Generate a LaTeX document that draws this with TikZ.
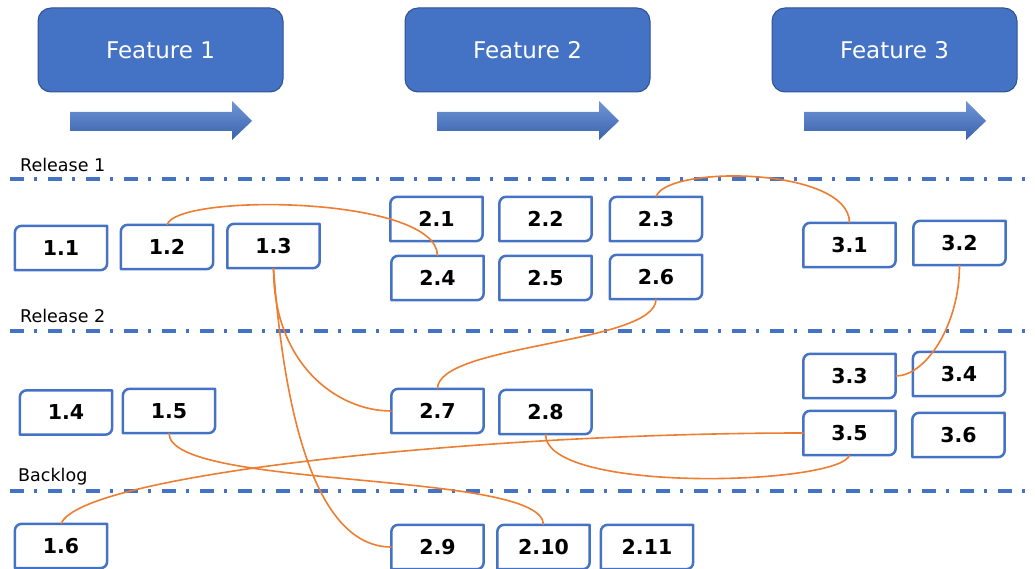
\documentclass[tikz,border=0pt]{standalone}
\usepackage{fontspec}
\setmainfont{DejaVu Sans}
\definecolor{featblue}{HTML}{4472C4}
\definecolor{featedge}{HTML}{2F528F}
\definecolor{linkorange}{HTML}{ED7D31}
\definecolor{arrowtop}{HTML}{7096D8}
\definecolor{arrowbot}{HTML}{3A62AB}

% outline of a work item: rounded top-left and bottom-right corners
\newcommand\cellframe[1]{%
  \draw[cellline] (#1.south west) -- ([yshift=-7pt]#1.north west)
    .. controls ([yshift=-3pt]#1.north west) and ([xshift=3pt]#1.north west) .. ([xshift=7pt]#1.north west)
    -- (#1.north east) -- ([yshift=7pt]#1.south east)
    .. controls ([yshift=3pt]#1.south east) and ([xshift=-3pt]#1.south east) .. ([xshift=-7pt]#1.south east)
    -- cycle;}

\tikzset{
  feature/.style={draw=featedge, line width=1pt, fill=featblue, rounded corners=13pt,
    minimum width=245pt, minimum height=84pt, inner sep=0pt, text=white,
    font=\fontsize{23}{26}\selectfont},
  cell/.style={minimum width=92pt, minimum height=44pt, inner sep=0pt,
    font=\fontsize{20.5}{22}\selectfont\bfseries},
  cellline/.style={draw=featblue, line width=2.5pt, line join=round},
  sepline/.style={draw=featblue, line width=3.8pt,
    dash pattern=on 14pt off 10pt on 3pt off 11pt},
  lbl/.style={anchor=base west, inner sep=0pt, font=\fontsize{17.5}{19}\selectfont},
  link/.style={draw=linkorange, line width=1.6pt}
}

\begin{document}
\begin{tikzpicture}[x=1pt,y=-1pt]
\useasboundingbox (0,0) rectangle (1035,569);

% feature headers and their progress arrows
\node[feature] (f1) at (160.5,50) {Feature 1};
\node[feature] (f2) at (527.5,50) {Feature 2};
\node[feature] (f3) at (894.5,50) {Feature 3};
\foreach \dx in {0,367,734}{
  \shade[top color=arrowtop, bottom color=arrowbot]
    (70+\dx,112) -- (232+\dx,112) -- (232+\dx,101) -- (252+\dx,121)
    -- (232+\dx,140) -- (232+\dx,131) -- (70+\dx,131) -- cycle;
}

% release separators
\node[lbl] (rel1) at (20,172) {Release 1};
\node[lbl] (rel2) at (20,322) {Release 2};
\node[lbl] (blog) at (18,481) {Backlog};
\draw[sepline] (10,179) -- (1035,179);
\draw[sepline] (10,331) -- (1035,331);
\draw[sepline] (10,491) -- (1035,491);

% work items
\node[cell] (n11) at (61,248) {1.1};
\node[cell] (n12) at (167,247) {1.2};
\node[cell] (n13) at (273.5,246) {1.3};
\node[cell] (n21) at (436.5,219) {2.1};
\node[cell] (n22) at (545.5,219) {2.2};
\node[cell] (n23) at (656,219) {2.3};
\node[cell] (n24) at (437.5,278) {2.4};
\node[cell] (n25) at (545.5,278) {2.5};
\node[cell] (n26) at (656,277) {2.6};
\node[cell] (n31) at (849.5,245) {3.1};
\node[cell] (n32) at (959.5,243) {3.2};
\node[cell] (n33) at (849.5,376) {3.3};
\node[cell] (n34) at (959,374) {3.4};
\node[cell] (n35) at (849.5,433) {3.5};
\node[cell] (n36) at (958.5,435) {3.6};
\node[cell] (n14) at (66,412.5) {1.4};
\node[cell] (n15) at (169,411) {1.5};
\node[cell] (n27) at (437.5,411) {2.7};
\node[cell] (n28) at (545.5,412) {2.8};
\node[cell] (n16) at (61,546) {1.6};
\node[cell] (n29) at (437.5,547) {2.9};
\node[cell] (n210) at (543.5,547) {2.10};
\node[cell] (n211) at (647,547) {2.11};
\foreach \n in {n11,n12,n13,n21,n22,n23,n24,n25,n26,n31,n32,n33,n34,n35,n36,
                n14,n15,n27,n28,n16,n29,n210,n211}{\cellframe{\n}}

% dependencies
\draw[link] (n12.north) .. controls +(10,-32) and +(0,-60) .. (n24.north);
\draw[link] (n23.north) .. controls +(10,-32) and +(0,-56) .. (n31.north);
\draw[link] (n13.south) .. controls +(0,95) and +(-55,0) .. (n27.west);
\draw[link] (n13.south) .. controls +(12,162) and +(-71,0) .. (n29.west);
\draw[link] (n26.south) .. controls +(0,45) and +(0,-45) .. (n27.north);
\draw[link] (n32.south) .. controls +(0,60) and +(30,0) .. (n33.east);
\draw[link] (n35.west) .. controls +(-320,0) and +(20,-50) .. (n16.north);
\draw[link] (n35.south) .. controls +(-10,30) and +(0,60) .. (n28.south);
\draw[link] (n15.south) .. controls +(0,57) and +(0,-55) .. (n210.north);
\end{tikzpicture}
\end{document}
